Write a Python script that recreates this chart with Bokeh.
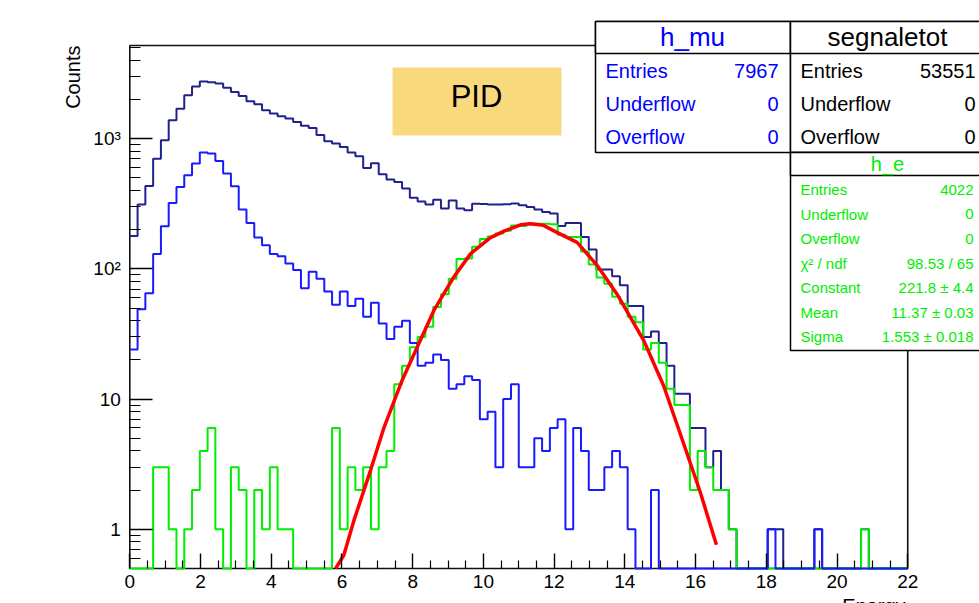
import numpy as np
from bokeh.plotting import figure
from bokeh.models import Range1d, FixedTicker, BoxAnnotation, Label
from bokeh.embed import file_html
from bokeh.resources import INLINE

# ---------------- data ----------------
n_bins = 100
x_min, x_max = 0.0, 22.0
y_lo, y_hi = 0.5, 5200.0

segnaletot = [179, 312, 433, 703, 972, 1384, 1702, 2153, 2523, 2750,
              2720, 2650, 2466, 2280, 2126, 1937, 1836, 1652, 1559, 1486,
              1427, 1343, 1260, 1210, 1070, 955, 917, 863, 785, 732,
              595, 647, 533, 485, 465, 414, 352, 330, 312, 340,
              291, 335, 291, 282, 316, 315, 312, 312, 314, 318,
              308, 299, 286, 274, 266, 214, 225, 225, 176, 141,
              99, 99, 88, 75, 52, 52, 30, 33, 27, 18,
              11, 11, 6, 6, 3, 4, 2, 1, 0, 0,
              0, 0, 1, 1, 0, 0, 0, 0, 1, 0,
              0, 0, 0, 0, 1, 0, 0, 0, 0, 0]

h_mu = [24, 49, 65, 130, 213, 321, 426, 524, 644, 782,
        769, 675, 540, 432, 286, 225, 174, 152, 130, 125,
        110, 98, 71, 95, 84, 67, 53, 67, 52, 59,
        43, 55, 38, 29, 36, 40, 27, 18, 19, 22,
        20, 12, 13, 15, 14, 7, 8, 3, 10, 13,
        3, 3, 5, 4, 6, 7, 1, 6, 4, 2,
        2, 3, 4, 3, 1, 0, 0, 2, 0, 0,
        0, 0, 0, 0, 0, 0, 0, 0, 0, 0,
        0, 0, 1, 0, 0, 0, 0, 0, 1, 0,
        0, 0, 0, 0, 0, 0, 0, 0, 0, 0]

h_e = [0, 0, 0, 3, 3, 1, 0, 1, 2, 4,
       6, 1, 0, 3, 2, 0, 2, 1, 3, 1,
       1, 0, 0, 0, 0, 0, 6, 1, 3, 2,
       3, 1, 3, 4, 13, 18, 25, 30, 36, 51,
       64, 84, 119, 120, 148, 170, 177, 187, 196, 215,
       214, 222, 222, 222, 220, 183, 176, 176, 136, 108,
       86, 77, 61, 54, 43, 39, 24, 27, 19, 12,
       9, 9, 2, 4, 3, 2, 2, 1, 0, 0,
       0, 0, 0, 0, 0, 0, 0, 0, 0, 0,
       0, 0, 0, 0, 1, 0, 0, 0, 0, 0]

# Gaussian fit curve
fit_x = [5.82, 6.05, 6.33, 6.81, 7.18, 7.70, 8.13, 8.60, 9.16, 9.64,
         10.20, 10.60, 11.05, 11.33, 11.70, 12.09, 12.65, 13.22, 13.78,
         14.54, 15.10, 15.72, 16.14, 16.59]
fit_y = [0.50, 0.63, 1.15, 2.85, 5.95, 13.9, 25.1, 48.0, 86.5, 131,
         174, 196, 218, 222, 216, 190, 160, 106, 64,
         28, 12.6, 4.1, 1.9, 0.76]

x_major_ticks = [0, 2, 4, 6, 8, 10, 12, 14, 16, 18, 20, 22]
y_major_ticks = [1, 10, 100, 1000]
y_tick_labels = {1: "1", 10: "10", 100: "10²", 1000: "10³"}

mu_stats = [("Entries", "7967"), ("Underflow", "0"), ("Overflow", "0")]
tot_stats = [("Entries", "53551"), ("Underflow", "0"), ("Overflow", "0")]
e_stats = [("Entries", "4022"), ("Underflow", "0"), ("Overflow", "0"),
           ("χ² / ndf", "98.53 / 65"), ("Constant", "221.8 ± 4.4"),
           ("Mean", "11.37 ± 0.03"), ("Sigma", "1.553 ± 0.018")]

# ---------------- layout / styles ----------------
FONT = "Liberation Sans"
C_TOT = "#20208f"
C_MU = "#1a1aff"
C_E = "#00ee00"
C_FIT = "#ff0000"

W, H = 979, 603
PX_X0 = 129.3          # canvas x of x = 0
PX_PER_X = 35.36       # pixels per unit of x
PX_YLO = 568.0         # canvas y of the bottom of the ROOT frame
PX_PER_DEC = 130.2     # pixels per decade of y

xs = -PX_X0 / PX_PER_X
xe = (W - PX_X0) / PX_PER_X
ys = 10 ** (np.log10(y_lo) - (H - PX_YLO) / PX_PER_DEC)
ye = 10 ** (np.log10(y_lo) + PX_YLO / PX_PER_DEC)

p = figure(width=W, height=H, x_range=Range1d(xs, xe), y_range=Range1d(ys, ye),
           y_axis_type="log", output_backend="svg", toolbar_location=None,
           min_border=0, min_border_left=0, min_border_right=0,
           min_border_top=0, min_border_bottom=0)
p.outline_line_color = None
p.background_fill_color = "white"
p.border_fill_color = "white"
p.xgrid.visible = False
p.ygrid.visible = False

# bottom axis (drawn at the bottom of the ROOT frame)
xa = p.xaxis[0]
xa.fixed_location = y_lo
xa.ticker = FixedTicker(ticks=x_major_ticks,
                        minor_ticks=[k * 0.5 for k in range(1, 44) if k % 4 != 0])
xa.axis_line_color = None
xa.major_tick_in = 15
xa.major_tick_out = 0
xa.minor_tick_in = 8
xa.minor_tick_out = 0
xa.major_label_standoff = 6
xa.major_label_text_font = FONT
xa.major_label_text_font_size = "19px"
xa.major_label_text_color = "black"
xa.major_tick_line_color = "black"
xa.minor_tick_line_color = "black"
xa.major_tick_line_width = 1.4
xa.minor_tick_line_width = 1.2

# left axis (drawn at x = 0)
ya = p.yaxis[0]
ya.fixed_location = x_min
minor = [m * 10.0 ** k for k in range(-1, 4) for m in range(2, 10)
         if y_lo < m * 10.0 ** k < y_hi]
ya.ticker = FixedTicker(ticks=y_major_ticks, minor_ticks=minor)
ya.major_label_overrides = y_tick_labels
ya.axis_line_color = None
ya.major_tick_in = 23
ya.major_tick_out = 0
ya.minor_tick_in = 11
ya.minor_tick_out = 0
ya.major_label_standoff = 9
ya.major_label_text_font = FONT
ya.major_label_text_font_size = "19px"
ya.major_label_text_color = "black"
ya.major_tick_line_color = "black"
ya.minor_tick_line_color = "black"
ya.major_tick_line_width = 1.4
ya.minor_tick_line_width = 1.2

# ROOT frame
p.add_layout(BoxAnnotation(left=x_min, right=x_max, bottom=y_lo, top=y_hi,
                           fill_alpha=0, line_color="#111111", line_width=1.6,
                           line_alpha=1.0, level="underlay"))

# histograms
edges = np.linspace(x_min, x_max, n_bins + 1)


def step_vals(vals):
    v = np.array(vals, dtype=float)
    v = np.where(v > 0, v, y_lo)
    return np.append(v, v[-1])


p.step(edges, step_vals(segnaletot), mode="after", line_color=C_TOT, line_width=2)
p.step(edges, step_vals(h_e), mode="after", line_color=C_E, line_width=2)
p.step(edges, step_vals(h_mu), mode="after", line_color=C_MU, line_width=2)
p.line(fit_x, fit_y, line_color=C_FIT, line_width=3.5)


# ---------------- annotations (canvas pixels) ----------------
def box(l, r, t, b, fill="white", line="black", lw=1.5):
    p.add_layout(BoxAnnotation(left=l, right=r, top=t, bottom=b,
                               left_units="canvas", right_units="canvas",
                               top_units="canvas", bottom_units="canvas",
                               fill_color=fill, fill_alpha=1.0,
                               line_color=line, line_width=lw, line_alpha=1.0))


def text(x, y, s, size, color="black", align="left", baseline="middle", angle=0.0):
    p.add_layout(Label(x=x, y=y, x_units="canvas", y_units="canvas", text=s,
                       text_font=FONT, text_font_size=size, text_color=color,
                       text_align=align, text_baseline=baseline, angle=angle))


# PID box
box(392, 561, 67, 135, fill="#f9d97e", line=None, lw=0)
text(476, 96, "PID", "31px", "black", "center")

# h_mu stats box
box(595, 790, 21, 152)
box(595, 790, 21, 53)
text(692, 36, "h_mu", "26px", "#0000ff", "center")
for i, (k, v) in enumerate(mu_stats):
    yy = 70 + i * 33
    text(605, yy, k, "20px", "#0000ff", "left")
    text(778, yy, v, "20px", "#0000ff", "right")

# segnaletot stats box
box(790, 995, 21, 152)
box(790, 995, 21, 53)
text(887, 36, "segnaletot", "26px", "black", "center")
for i, (k, v) in enumerate(tot_stats):
    yy = 70 + i * 33
    text(800, yy, k, "20px", "black", "left")
    text(975, yy, v, "20px", "black", "right")

# h_e stats box
box(790, 995, 152, 350)
box(790, 995, 152, 175)
text(887, 163, "h_e", "20px", "#00ee00", "center")
for i, (k, v) in enumerate(e_stats):
    yy = 189 + i * 24.5
    text(800, yy, k, "15px", "#00ee00", "left")
    text(973, yy, v, "15px", "#00ee00", "right")

# axis titles
text(72, 45, "Counts", "20px", "black", "right", "alphabetic", np.pi / 2)
text(905, 594, "Energy", "20px", "black", "right", "top")

open("out.html", "w").write(file_html(p, INLINE))
